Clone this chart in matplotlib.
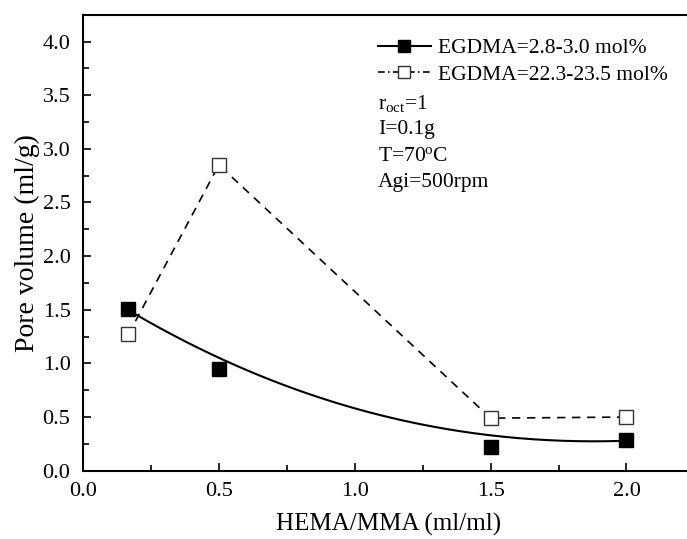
import numpy as np
import matplotlib
matplotlib.use('Agg')
import matplotlib.pyplot as plt

plt.rcParams['font.family'] = ['Liberation Serif', 'DejaVu Serif']
plt.rcParams['mathtext.fontset'] = 'custom'
plt.rcParams['mathtext.rm'] = 'Liberation Serif'
plt.rcParams['mathtext.it'] = 'Liberation Serif:italic'

# Data (HEMA/MMA ratio vs pore volume)
hema_mma = [0.167, 0.5, 1.5, 2.0]
pv_low = [1.51, 0.95, 0.22, 0.29]      # EGDMA=2.8-3.0 mol%
pv_high = [1.27, 2.85, 0.49, 0.50]     # EGDMA=22.3-23.5 mol%

# smooth trend curve for the low-EGDMA series
trend_x = [0.195, 0.43, 0.5, 0.798, 0.98, 1.166, 1.39, 1.534, 1.755, 2.0]
trend_y = [1.47, 1.125, 1.03, 0.752, 0.61, 0.489, 0.364, 0.311, 0.265, 0.29]

conditions = ['r$_{\\mathrm{oct}}$=1', 'I=0.1g', 'T=70$^{\\mathrm{o}}$C', 'Agi=500rpm']

fig = plt.figure(figsize=(6.87, 5.39), dpi=100)
ax = fig.add_axes([0.1208, 0.1267, 0.89, 0.846])

# trend line
coef = np.polyfit(trend_x, trend_y, 3)
xs = np.linspace(trend_x[0], trend_x[-1], 200)
ax.plot(xs, np.polyval(coef, xs), color='black', lw=1.5, zorder=2)
ax.plot(hema_mma, pv_low, 's', color='black', ms=9.5, zorder=3)

ax.plot(hema_mma, pv_high, color='black', lw=1.2, linestyle=(0, (5, 4)),
        marker='s', ms=9.5, mfc='white', mec='#333333', mew=1.0, zorder=3)

# legend handles
h1, = ax.plot([], [], color='black', lw=1.5, marker='s', ms=8)
h2, = ax.plot([], [], color='black', lw=1.2, linestyle=(0, (4, 2, 1, 2)),
              marker='s', ms=8, mfc='white', mec='#333333')
leg = ax.legend([h1, h2], ['EGDMA=2.8-3.0 mol%', 'EGDMA=22.3-23.5 mol%'],
                loc='upper left', bbox_to_anchor=(0.4825, 0.948), frameon=False,
                fontsize=15.5, handlelength=2.45, handletextpad=0.35,
                labelspacing=0.3, borderaxespad=0, borderpad=0)

for i, txt in enumerate(conditions):
    fig.text(0.5502, 0.808 - i * 0.049, txt, fontsize=15.5, va='center')

ax.set_xlim(0, 2.25)
ax.set_ylim(0, 4.25)
ax.set_xticks([0.0, 0.5, 1.0, 1.5, 2.0])
ax.set_xticks(np.arange(0.25, 2.25, 0.5), minor=True)
ax.set_yticks(np.arange(0, 4.01, 0.5))
ax.set_yticks(np.arange(0.25, 4.25, 0.5), minor=True)
ax.xaxis.set_major_formatter(matplotlib.ticker.FormatStrFormatter('%.1f'))
ax.yaxis.set_major_formatter(matplotlib.ticker.FormatStrFormatter('%.1f'))
ax.tick_params(which='both', direction='in', labelsize=16, width=1.2)
ax.tick_params(which='major', length=6)
ax.tick_params(which='minor', length=4)
ax.tick_params(axis='x', pad=8)
ax.tick_params(axis='y', pad=9)
for s in ax.spines.values():
    s.set_linewidth(1.5)

ax.set_xlabel('HEMA/MMA (ml/ml)', fontsize=18, labelpad=9)
ax.set_ylabel('Pore volume (ml/g)', fontsize=20, labelpad=2)

fig.savefig('out.png', dpi=100)
